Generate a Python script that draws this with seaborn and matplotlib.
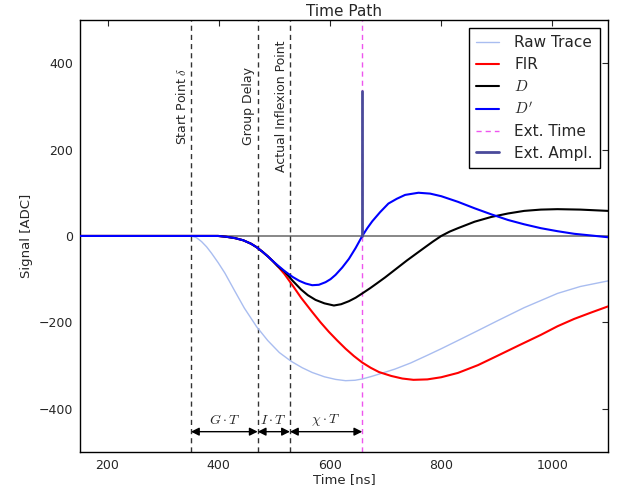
import numpy as np
import pandas as pd
import matplotlib
matplotlib.use("Agg")
import matplotlib.pyplot as plt
import seaborn as sns

# ---------------------------------------------------------------------------
# Values (time in ns, signal in ADC)
# ---------------------------------------------------------------------------
t_raw = [150, 350, 360, 369, 378, 387, 399, 411, 420, 429, 446, 468, 488,
         509, 530, 550, 568, 590, 610, 628, 645, 658, 675, 695, 717, 745,
         777, 800, 830, 866, 900, 949, 1009, 1050, 1100]
raw = [0, 0, -4, -13, -25, -40, -62, -86, -107, -128, -167, -210, -242,
       -270, -290, -305, -316, -326, -332, -335, -334, -331, -325, -317,
       -308, -294, -275, -261, -242, -219, -197, -166, -133, -117, -104]

t_fir = [150, 380, 399, 414, 429, 444, 458, 468, 478, 488, 497, 506, 518,
         533, 548, 568, 583, 598, 613, 628, 643, 658, 673, 688, 710, 730,
         750, 775, 800, 830, 866, 900, 940, 979, 1009, 1039, 1070, 1100]
fir = [0, 0, 0, -2, -5, -10, -18, -26, -36, -47, -58, -70, -88, -115, -143,
       -176, -200, -222, -242, -261, -278, -293, -305, -315, -324, -330,
       -333, -332, -327, -317, -299, -278, -253, -229, -209, -192, -177, -163]

t_d = [150, 380, 399, 414, 429, 444, 458, 468, 478, 488, 497, 506, 518,
       533, 548, 560, 574, 590, 607, 620, 634, 646, 658, 672, 684, 699, 711,
       725, 738, 755, 771, 785, 800, 815, 830, 860, 890, 920, 949, 979, 1009,
       1050, 1100]
d = [0, 0, 0, -2, -5, -10, -18, -26, -36, -47, -58, -70, -82, -104, -124,
     -137, -148, -156, -161, -158, -151, -143, -133, -121, -110, -96, -84,
     -70, -57, -41, -26, -13, 0, 10, 18, 33, 44, 52, 58, 61, 62, 61, 58]

t_dp = [150, 380, 399, 414, 429, 444, 458, 468, 478, 488, 497, 506, 518,
        533, 545, 556, 568, 580, 592, 601, 610, 622, 634, 646, 658, 667, 676,
        690, 705, 720, 735, 759, 780, 800, 830, 860, 890, 920, 949, 979, 1009,
        1039, 1070, 1100]
dp = [0, 0, 0, -2, -5, -10, -18, -26, -36, -47, -58, -68, -81, -95, -104,
      -110, -114, -113, -107, -100, -90, -73, -53, -28, 0, 18, 34, 55, 75,
      86, 95, 100, 98, 92, 79, 64, 50, 37, 27, 18, 11, 5, 1, -3]

t_start = 350
t_group = 470
t_inflex = 528
t_ext = 658
ext_ampl = 335

marker_names = ["Start Point $\\delta$", "Group Delay", "Actual Inflexion Point"]
span_names = ["$G\\cdot T$", "$I\\cdot T$", "$\\chi\\cdot T$"]

# ---------------------------------------------------------------------------
# Style
# ---------------------------------------------------------------------------
sns.set_style("white")
plt.rcParams["font.family"] = ["DejaVu Sans"]
plt.rcParams["mathtext.fontset"] = "cm"
plt.rcParams["xtick.direction"] = "in"
plt.rcParams["ytick.direction"] = "in"
plt.rcParams["xtick.top"] = True
plt.rcParams["ytick.right"] = True
plt.rcParams["xtick.major.size"] = 4
plt.rcParams["ytick.major.size"] = 4
plt.rcParams["axes.edgecolor"] = "black"
plt.rcParams["axes.linewidth"] = 1.0

fig = plt.figure(figsize=(6.18, 4.86), dpi=100)
ax = fig.add_axes([0.129, 0.070, 0.855, 0.889])

ax.axhline(0, color="0.45", lw=1.2, zorder=1)

sns.lineplot(x=t_raw, y=raw, ax=ax, color="#a9bdf0", lw=1.0, label="Raw Trace", zorder=2)
sns.lineplot(x=t_fir, y=fir, ax=ax, color="red", lw=1.5, label="FIR", zorder=3)
sns.lineplot(x=t_d, y=d, ax=ax, color="black", lw=1.5, label="$D$", zorder=3)
sns.lineplot(x=t_dp, y=dp, ax=ax, color="blue", lw=1.5, label="$D'$", zorder=4)

for xv in (t_start, t_group, t_inflex):
    ax.axvline(xv, color="black", lw=1.0, ls=(0, (3.7, 2.9)), alpha=0.8, zorder=1)
ax.axvline(t_ext, color="#ee55ee", lw=1.0, ls=(0, (3.7, 2.9)), label="Ext. Time", zorder=1)
ax.plot([t_ext, t_ext], [0, ext_ampl], color="#4a4a9a", lw=2.0, label="Ext. Ampl.", zorder=5)

for xv, name in zip((t_start, t_group, t_inflex), marker_names):
    ax.text(xv - 4, 300, name, rotation=90, ha="right", va="center", fontsize=9)

# span arrows along the bottom
edges = [t_start, t_group, t_inflex, t_ext]
for a, b, name in zip(edges[:-1], edges[1:], span_names):
    ax.annotate("", xy=(b, -453), xytext=(a, -453),
                arrowprops=dict(arrowstyle="<|-|>", color="black", lw=1.0,
                                shrinkA=0, shrinkB=0, mutation_scale=12))
    ax.text((a + b) / 2, -427, name, ha="center", va="center", fontsize=10)

ax.set_xlim(150, 1100)
ax.set_ylim(-500, 500)
ax.set_xticks([200, 400, 600, 800, 1000])
ax.set_yticks([-400, -200, 0, 200, 400])
ax.tick_params(labelsize=9, pad=5)
ax.set_xlabel("Time [ns]", fontsize=9.5, labelpad=1)
ax.set_ylabel("Signal [ADC]", fontsize=9.5, labelpad=4)
ax.set_title("Time Path", fontsize=11, pad=3)

leg = ax.legend(loc="upper right", fontsize=11, frameon=True, fancybox=False,
                edgecolor="black", framealpha=1, handlelength=1.5,
                handletextpad=1.0, labelspacing=0.45, borderpad=0.5,
                borderaxespad=0.5)
leg.get_frame().set_linewidth(1.0)

fig.savefig("out.png", dpi=100)
